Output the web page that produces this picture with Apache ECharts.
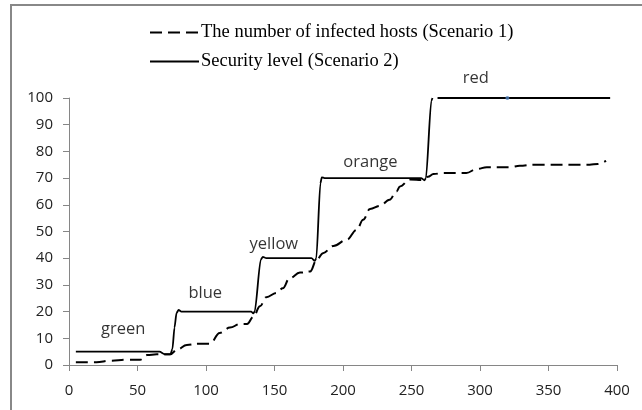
<!DOCTYPE html>
<html lang="en">
<head>
    <meta charset="UTF-8">
    <title>Security level chart</title>
    <script src="https://cdn.jsdelivr.net/npm/echarts@6/dist/echarts.min.js"></script>
    <style>
        html, body { margin: 0; padding: 0; background: #fff; }
        #chart { width: 642px; height: 410px; }
    </style>
</head>
<body>
<div id="chart"></div>
<script type="text/javascript">
    // infected hosts, scenario 1 (dashed)
    var hostsX = [5, 20, 30, 42, 52, 57, 64, 74, 79, 86, 95, 103, 110, 117.5, 125, 130, 134.5, 139.4, 144, 151.6,
        156, 161, 168.6, 176, 180.8, 185.4, 193, 202.7, 210, 214.7, 219.7, 227, 234, 239, 241.6, 248.9, 258,
        262, 266, 273, 290, 297.6, 305, 322, 329, 339, 380, 386, 392];
    var hostsY = [1, 1, 1.6, 2, 2, 3.7, 4, 4, 5.8, 7.5, 8, 8, 12, 14, 15.4, 15.4, 18, 22, 25.4, 27,
        28.7, 32.5, 34.6, 35, 39.4, 41.9, 44.6, 46.9, 50.6, 54.4, 58.4, 59.6, 61.9, 65, 66.9, 69.5, 69.3,
        70.5, 71.5, 71.9, 71.9, 73.4, 74.1, 74.1, 74.6, 75, 75, 75.3, 76.5];

    // security level, scenario 2 (solid), null = gap in the line
    var levelX = [5, 66, 70, 74, 75.5, 77, 78.5, 80, 82, 133, 134.5, 135.5, 140, 141.5, 144, 177, 179.5, 180.5,
        183.5, 184.5, 186.5, 257, 259.5, 260.5, 264.5, 265.3, 267, 269, 395];
    var levelY = [5, 5, 4, 4, 6, 14, 19.5, 20.6, 20, 20, 19.3, 20, 39.5, 40.5, 40, 40, 39, 40,
        68, 70.3, 70, 70, 69.2, 70, 99, 100, null, 100, 100];

    // level names written on the plot
    var stepNames = ['green', 'blue', 'yellow', 'orange', 'red'];
    var stepX = [39.5, 99.5, 149.5, 220, 297];
    var stepY = [13.5, 27, 45.3, 76, 107.3];

    var seriesNames = ['The number of infected hosts (Scenario 1)', 'Security level (Scenario 2)'];

    function pairs(xs, ys) {
        var out = [];
        for (var i = 0; i < xs.length; i++) {
            out.push([xs[i], ys[i]]);
        }
        return out;
    }

    var stepData = [];
    for (var i = 0; i < stepNames.length; i++) {
        stepData.push({value: [stepX[i], stepY[i]], name: stepNames[i]});
    }

    var myChart = echarts.init(document.getElementById('chart'));
    var axisGray = '#868686';

    var option = {
        backgroundColor: '#fff',
        animation: false,
        graphic: [{
            type: 'rect',
            shape: {x: 11, y: 5, width: 700, height: 500},
            style: {fill: 'none', stroke: '#888', lineWidth: 2},
            silent: true
        }],
        legend: {
            data: seriesNames,
            orient: 'vertical',
            left: 149,
            top: 23,
            padding: 0,
            itemWidth: 49,
            itemHeight: 14,
            itemGap: 10,
            itemStyle: {opacity: 0},
            textStyle: {fontFamily: 'Liberation Serif', fontSize: 18.5, color: '#000', padding: [0, 0, 0, -3]}
        },
        grid: {left: 69, right: 25, top: 98, bottom: 45},
        xAxis: {
            type: 'value',
            min: 0,
            max: 400,
            interval: 50,
            splitLine: {show: false},
            axisLine: {lineStyle: {color: axisGray}},
            axisTick: {length: 6, lineStyle: {color: axisGray}},
            axisLabel: {fontFamily: 'Open Sans', fontSize: 15, color: '#222', margin: 18}
        },
        yAxis: {
            type: 'value',
            min: 0,
            max: 100,
            interval: 10,
            splitLine: {show: false},
            axisLine: {show: true, lineStyle: {color: axisGray}},
            axisTick: {show: true, length: 6, lineStyle: {color: axisGray}},
            axisLabel: {fontFamily: 'Open Sans', fontSize: 15, color: '#222', margin: 16}
        },
        series: [
            {
                name: seriesNames[0],
                type: 'line',
                data: pairs(hostsX, hostsY),
                symbol: 'none',
                smooth: 0.4,
                smoothMonotone: 'x',
                lineStyle: {color: '#000', width: 2, type: [12, 6]},
                itemStyle: {color: '#000'}
            },
            {
                name: seriesNames[1],
                type: 'line',
                data: pairs(levelX, levelY),
                symbol: 'none',
                smooth: 0.25,
                smoothMonotone: 'x',
                connectNulls: false,
                lineStyle: {color: '#000', width: 1.8, type: 'solid'},
                itemStyle: {color: '#000'}
            },
            {
                name: 'marker',
                type: 'scatter',
                data: [[320, 100]],
                symbolSize: 4,
                itemStyle: {color: '#4f81bd'},
                z: 5
            },
            {
                name: 'levels',
                type: 'scatter',
                clip: false,
                data: stepData,
                symbolSize: 0,
                label: {
                    show: true,
                    position: 'inside',
                    formatter: function (p) { return p.name; },
                    fontFamily: 'Open Sans',
                    fontSize: 16.5,
                    color: '#000'
                }
            }
        ]
    };

    myChart.setOption(option);
</script>
</body>
</html>
